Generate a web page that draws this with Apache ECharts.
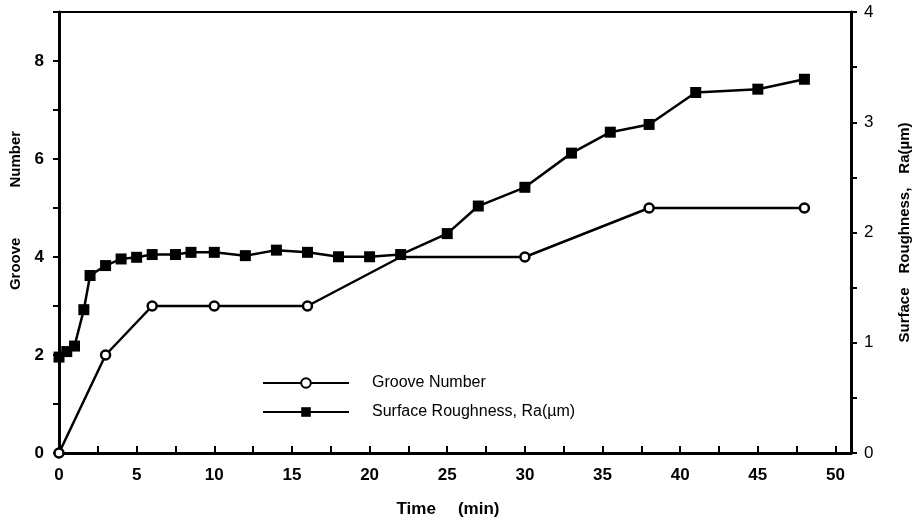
<!DOCTYPE html>
<html>
<head>
<meta charset="utf-8">
<script src="https://cdn.jsdelivr.net/npm/echarts@6/dist/echarts.min.js"></script>
<style>
  html, body { margin: 0; padding: 0; background: #fff; }
  #chart { width: 920px; height: 525px; }
</style>
</head>
<body>
<div id="chart"></div>
<script>
// Groove count over grinding time (left axis)
const grooveTime = [0, 3, 6, 10, 16, 22, 30, 38, 48];
const grooveNumber = [0, 2, 3, 3, 3, 4, 4, 5, 5];
// vertex at 22 min sits under a roughness marker, so it carries no symbol
const grooveHiddenAt = [22];

// Surface roughness Ra (µm) over grinding time (right axis)
const roughTime = [0, 0.5, 1, 1.6, 2, 3, 4, 5, 6, 7.5, 8.5, 10, 12, 14, 16, 18, 20, 22, 25, 27, 30, 33, 35.5, 38, 41, 45, 48];
const roughRa = [0.87, 0.92, 0.97, 1.30, 1.61, 1.70, 1.76, 1.775, 1.80, 1.80, 1.82, 1.82, 1.79, 1.84, 1.82, 1.78, 1.78, 1.80, 1.99, 2.24, 2.41, 2.72, 2.91, 2.98, 3.27, 3.30, 3.39];

const seriesNames = ['Groove Number', 'Surface Roughness, Ra(\u00b5m)'];
const xTitleWords = ['Time', '(min)'];
const leftTitleWords = ['Groove', 'Number'];
const rightTitleWords = ['Surface', 'Roughness,', 'Ra(\u00b5m)'];

const FONT = '"Liberation Sans", Arial, sans-serif';
const INK = '#000';

// join words with a fixed-width spacer token so titles keep their wide word gaps
const spaced = words => words.map(w => '{w|' + w + '}').join('{g| }');

const grooveData = grooveTime.map((t, i) => {
  const item = { value: [t, grooveNumber[i]] };
  if (grooveHiddenAt.includes(t)) item.symbol = 'none';
  return item;
});
const roughData = roughTime.map((t, i) => [t, roughRa[i]]);

const tickLabel = { color: INK, fontFamily: FONT, fontWeight: 'bold', fontSize: 17 };

function titleStyle(size, gap, extra) {
  return Object.assign({
    color: INK, fontFamily: FONT, fontWeight: 'bold', fontSize: size,
    rich: {
      w: { color: INK, fontFamily: FONT, fontWeight: 'bold', fontSize: size },
      g: { width: gap, fontSize: size }
    }
  }, extra || {});
}

const chart = echarts.init(document.getElementById('chart'), null, { renderer: 'canvas' });
chart.setOption({
  animation: false,
  backgroundColor: '#fff',
  grid: {
    left: 58, right: 69, top: 12, bottom: 72,
    show: true, borderColor: INK, borderWidth: 2, backgroundColor: 'transparent'
  },
  legend: {
    orient: 'vertical',
    left: 257, top: 370,
    itemWidth: 86, itemHeight: 12, itemGap: 13,
    textStyle: { color: INK, fontFamily: FONT, fontSize: 16, padding: [0, 0, 0, 18] },
    data: seriesNames
  },
  xAxis: {
    type: 'value', min: 0, max: 51, interval: 2.5,
    name: spaced(xTitleWords), nameLocation: 'middle', nameGap: 48,
    nameTextStyle: titleStyle(17, 22, { padding: [0, 14, 0, 0] }),
    axisLine: { lineStyle: { color: INK, width: 3 } },
    axisTick: { inside: true, length: 7, lineStyle: { color: INK, width: 2 } },
    axisLabel: Object.assign({}, tickLabel, {
      margin: 14,
      formatter: v => (v % 5 === 0 ? String(v) : '')
    }),
    splitLine: { show: false }
  },
  yAxis: [
    {
      type: 'value', min: 0, max: 9, interval: 1, position: 'left',
      name: spaced(leftTitleWords), nameLocation: 'middle', nameGap: 36, nameRotate: 90,
      nameTextStyle: titleStyle(15, 50, { padding: [0, 0, 0, 44] }),
      axisLine: { show: true, lineStyle: { color: INK, width: 3 } },
      axisTick: { show: true, length: 6, lineStyle: { color: INK, width: 2 } },
      axisLabel: Object.assign({}, tickLabel, {
        margin: 15,
        formatter: v => (v % 2 === 0 && v < 9 ? String(v) : '')
      }),
      splitLine: { show: false }
    },
    {
      type: 'value', min: 0, max: 4, interval: 0.5, position: 'right',
      name: spaced(rightTitleWords), nameLocation: 'middle', nameGap: 46, nameRotate: 90,
      nameTextStyle: titleStyle(15, 14),
      axisLine: { show: true, lineStyle: { color: INK, width: 3 } },
      axisTick: { show: true, length: 6, lineStyle: { color: INK, width: 2 } },
      axisLabel: Object.assign({}, tickLabel, {
        fontWeight: 'normal',
        margin: 13,
        formatter: v => (Number.isInteger(v) ? String(v) : '')
      }),
      splitLine: { show: false }
    }
  ],
  series: [
    {
      name: seriesNames[0], type: 'line', yAxisIndex: 0,
      data: grooveData,
      symbol: 'circle', symbolSize: 9,
      lineStyle: { color: INK, width: 2.5 },
      itemStyle: { color: '#fff', borderColor: INK, borderWidth: 2.5 },
      z: 2
    },
    {
      name: seriesNames[1], type: 'line', yAxisIndex: 1,
      data: roughData,
      symbol: 'rect', symbolSize: 11,
      lineStyle: { color: INK, width: 2.5 },
      itemStyle: { color: INK, borderColor: INK, borderWidth: 0 },
      z: 3
    }
  ]
});
</script>
</body>
</html>
